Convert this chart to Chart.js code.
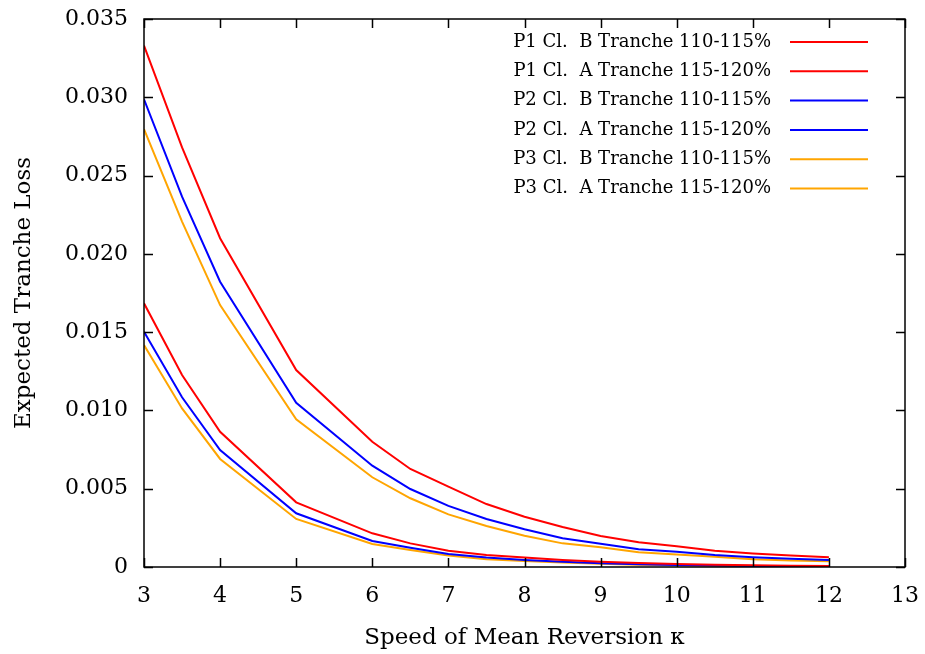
<!DOCTYPE html>
<html>
<head>
<meta charset="utf-8">
<script src="https://cdn.jsdelivr.net/npm/chart.js@4.4.1/dist/chart.umd.min.js"></script>
<style>
  html, body { margin: 0; padding: 0; background: #fff; }
  #wrap { width: 925px; height: 654px; position: relative; }
</style>
</head>
<body>
<div id="wrap"><canvas id="chart"></canvas></div>
<script>
// speed of mean reversion (kappa) sample points
const kappa = [3, 3.5, 4, 5, 6, 6.5, 7, 7.5, 8, 8.5, 9, 9.5, 10, 10.5, 11, 11.5, 12];

// expected tranche loss
const p1ClassB = [0.0333, 0.0268, 0.0210, 0.01258, 0.0080, 0.00626, 0.00513, 0.00402, 0.00321, 0.00255, 0.00198, 0.00158, 0.00132, 0.00104, 0.00087, 0.00073, 0.00062];
const p1ClassA = [0.01684, 0.01226, 0.00864, 0.00413, 0.00215, 0.00151, 0.00104, 0.00077, 0.00060, 0.00045, 0.00033, 0.00025, 0.00019, 0.00014, 0.00011, 0.00008, 0.00006];
const p2ClassB = [0.02987, 0.02365, 0.01822, 0.01049, 0.00647, 0.00498, 0.0039, 0.00307, 0.00241, 0.00183, 0.00149, 0.00113, 0.00098, 0.00077, 0.00062, 0.00052, 0.00045];
const p2ClassA = [0.01503, 0.01084, 0.00747, 0.00343, 0.00166, 0.00123, 0.00083, 0.00060, 0.00045, 0.00033, 0.00024, 0.00018, 0.00013, 0.00010, 0.00007, 0.00005, 0.00004];
const p3ClassB = [0.02796, 0.02206, 0.01673, 0.00943, 0.00573, 0.00439, 0.00336, 0.00262, 0.0020, 0.00151, 0.00126, 0.00094, 0.0008, 0.00066, 0.00049, 0.00042, 0.00036];
const p3ClassA = [0.01418, 0.01013, 0.0069, 0.00307, 0.00147, 0.00108, 0.00073, 0.00050, 0.00038, 0.00028, 0.0002, 0.00015, 0.00011, 0.00008, 0.00005, 0.00004, 0.00003];

const seriesLabels = [
  'P1 Cl.  B Tranche 110-115%',
  'P1 Cl.  A Tranche 115-120%',
  'P2 Cl.  B Tranche 110-115%',
  'P2 Cl.  A Tranche 115-120%',
  'P3 Cl.  B Tranche 110-115%',
  'P3 Cl.  A Tranche 115-120%'
];
const seriesColors = ['#ff0000', '#ff0000', '#0000ff', '#0000ff', '#ffa500', '#ffa500'];
const seriesValues = [p1ClassB, p1ClassA, p2ClassB, p2ClassA, p3ClassB, p3ClassA];

const xTicks = [3, 4, 5, 6, 7, 8, 9, 10, 11, 12, 13];
const yTicks = [0, 0.005, 0.010, 0.015, 0.020, 0.025, 0.030, 0.035];
const yTickLabels = ['0', '0.005', '0.010', '0.015', '0.020', '0.025', '0.030', '0.035'];

const FONT = "'DejaVu Serif', 'Liberation Serif', serif";

// gnuplot-like frame: border, inward ticks on all four sides, key in the top right
const framePlugin = {
  id: 'frame',
  afterDatasetsDraw(chart) {
    const { ctx, chartArea: a, scales: { x, y } } = chart;
    ctx.save();
    ctx.strokeStyle = '#000';
    ctx.lineWidth = 1.5;
    ctx.strokeRect(a.left, a.top, a.right - a.left, a.bottom - a.top);
    ctx.beginPath();
    x.ticks.forEach((t) => {
      const px = Math.round(x.getPixelForValue(t.value)) + 0.5;
      ctx.moveTo(px, a.bottom); ctx.lineTo(px, a.bottom - 9);
      ctx.moveTo(px, a.top); ctx.lineTo(px, a.top + 9);
    });
    y.ticks.forEach((t) => {
      const py = Math.round(y.getPixelForValue(t.value)) + 0.5;
      ctx.moveTo(a.left, py); ctx.lineTo(a.left + 9, py);
      ctx.moveTo(a.right, py); ctx.lineTo(a.right - 9, py);
    });
    ctx.stroke();

    ctx.font = '18px ' + FONT;
    ctx.fillStyle = '#000';
    ctx.textAlign = 'right';
    ctx.textBaseline = 'middle';
    chart.data.datasets.forEach((ds, i) => {
      const ry = a.top + 23 + i * 29.3;
      ctx.fillText(ds.label, a.right - 134, ry);
      ctx.strokeStyle = ds.borderColor;
      ctx.lineWidth = 2;
      ctx.beginPath();
      ctx.moveTo(a.right - 115, ry);
      ctx.lineTo(a.right - 37, ry);
      ctx.stroke();
    });
    ctx.restore();
  }
};

new Chart(document.getElementById('chart'), {
  type: 'line',
  data: {
    datasets: seriesLabels.map((label, i) => ({
      label,
      data: kappa.map((k, j) => ({ x: k, y: seriesValues[i][j] })),
      borderColor: seriesColors[i],
      borderWidth: 2,
      pointRadius: 0,
      tension: 0,
      fill: false
    }))
  },
  options: {
    responsive: true,
    maintainAspectRatio: false,
    animation: false,
    layout: { padding: { left: 0, right: 20, top: 19, bottom: 0 } },
    plugins: {
      legend: { display: false },
      tooltip: { enabled: false }
    },
    scales: {
      x: {
        type: 'linear',
        min: 3,
        max: 13,
        afterBuildTicks: (scale) => { scale.ticks = xTicks.map((v) => ({ value: v })); },
        afterFit: (scale) => {
          scale.height = 87;
          scale.paddingLeft = 0;
          scale.paddingRight = 0;
        },
        grid: { display: false, drawTicks: false },
        border: { display: false },
        ticks: { color: '#000', padding: 16, font: { family: FONT, size: 22 } },
        title: {
          display: true,
          text: 'Speed of Mean Reversion \u03BA',
          color: '#000',
          padding: { top: 10, bottom: 2 },
          font: { family: FONT, size: 23 }
        }
      },
      y: {
        min: 0,
        max: 0.035,
        afterBuildTicks: (scale) => { scale.ticks = yTicks.map((v) => ({ value: v })); },
        afterFit: (scale) => {
          scale.width = 144;
          scale.paddingTop = 0;
          scale.paddingBottom = 0;
        },
        grid: { display: false, drawTicks: false },
        border: { display: false },
        ticks: {
          color: '#000',
          padding: 16,
          font: { family: FONT, size: 22 },
          callback: (v) => yTickLabels[yTicks.findIndex((t) => Math.abs(t - v) < 1e-9)]
        },
        title: {
          display: true,
          text: 'Expected Tranche Loss',
          color: '#000',
          padding: { top: 10, bottom: 4 },
          font: { family: FONT, size: 23 }
        }
      }
    }
  },
  plugins: [framePlugin]
});
</script>
</body>
</html>
